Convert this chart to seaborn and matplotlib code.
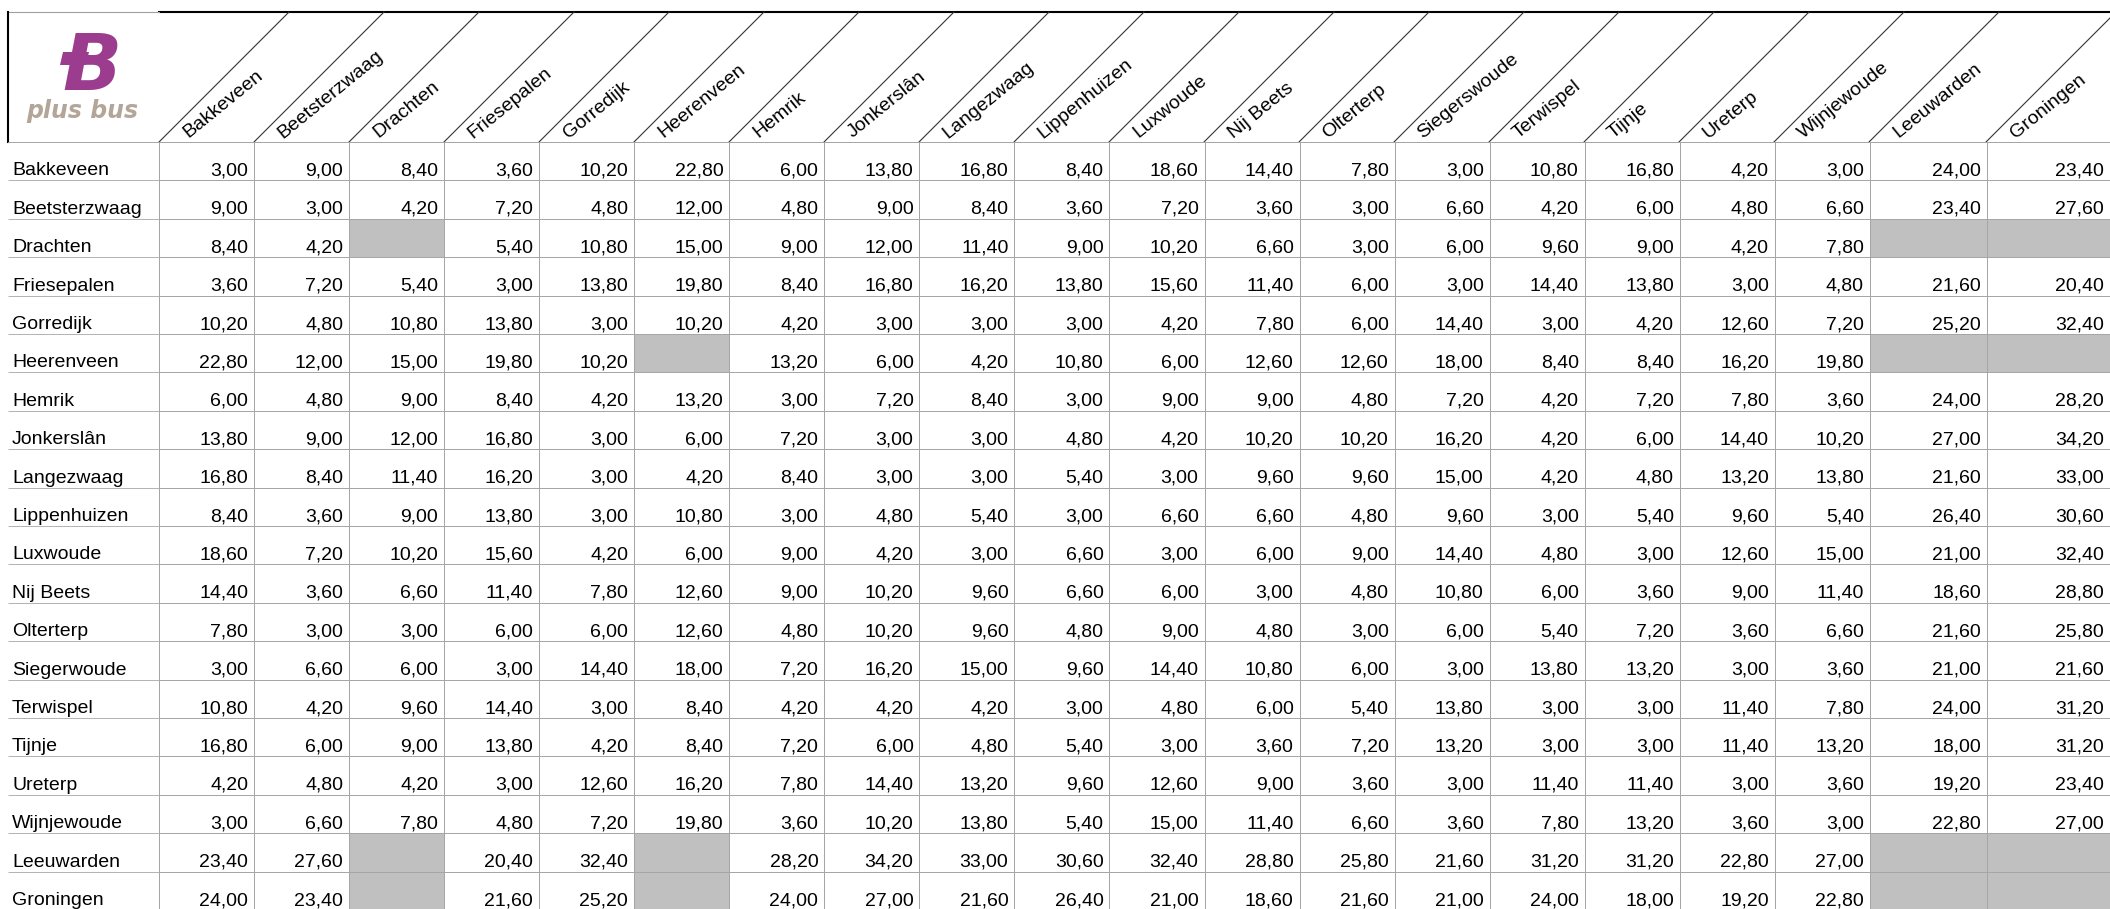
import numpy as np
import pandas as pd
import matplotlib
matplotlib.use('Agg')
import matplotlib.pyplot as plt
import seaborn as sns
from matplotlib.colors import ListedColormap
from matplotlib.patches import Polygon

# bus fares (euro) between places; None = no fare (grey cell)
col_places = ['Bakkeveen', 'Beetsterzwaag', 'Drachten', 'Friesepalen', 'Gorredijk',
              'Heerenveen', 'Hemrik', 'Jonkerslân', 'Langezwaag', 'Lippenhuizen',
              'Luxwoude', 'Nij Beets', 'Olterterp', 'Siegerswoude', 'Terwispel',
              'Tijnje', 'Ureterp', 'Wijnjewoude', 'Leeuwarden', 'Groningen']
row_places = ['Bakkeveen', 'Beetsterzwaag', 'Drachten', 'Friesepalen', 'Gorredijk',
              'Heerenveen', 'Hemrik', 'Jonkerslân', 'Langezwaag', 'Lippenhuizen',
              'Luxwoude', 'Nij Beets', 'Olterterp', 'Siegerwoude', 'Terwispel',
              'Tijnje', 'Ureterp', 'Wijnjewoude', 'Leeuwarden', 'Groningen']

bakkeveen = [3.0, 9.0, 8.4, 3.6, 10.2, 22.8, 6.0, 13.8, 16.8, 8.4, 18.6, 14.4, 7.8, 3.0, 10.8, 16.8, 4.2, 3.0, 24.0, 23.4]
beetsterzwaag = [9.0, 3.0, 4.2, 7.2, 4.8, 12.0, 4.8, 9.0, 8.4, 3.6, 7.2, 3.6, 3.0, 6.6, 4.2, 6.0, 4.8, 6.6, 23.4, 27.6]
drachten = [8.4, 4.2, None, 5.4, 10.8, 15.0, 9.0, 12.0, 11.4, 9.0, 10.2, 6.6, 3.0, 6.0, 9.6, 9.0, 4.2, 7.8, None, None]
friesepalen = [3.6, 7.2, 5.4, 3.0, 13.8, 19.8, 8.4, 16.8, 16.2, 13.8, 15.6, 11.4, 6.0, 3.0, 14.4, 13.8, 3.0, 4.8, 21.6, 20.4]
gorredijk = [10.2, 4.8, 10.8, 13.8, 3.0, 10.2, 4.2, 3.0, 3.0, 3.0, 4.2, 7.8, 6.0, 14.4, 3.0, 4.2, 12.6, 7.2, 25.2, 32.4]
heerenveen = [22.8, 12.0, 15.0, 19.8, 10.2, None, 13.2, 6.0, 4.2, 10.8, 6.0, 12.6, 12.6, 18.0, 8.4, 8.4, 16.2, 19.8, None, None]
hemrik = [6.0, 4.8, 9.0, 8.4, 4.2, 13.2, 3.0, 7.2, 8.4, 3.0, 9.0, 9.0, 4.8, 7.2, 4.2, 7.2, 7.8, 3.6, 24.0, 28.2]
jonkerslan = [13.8, 9.0, 12.0, 16.8, 3.0, 6.0, 7.2, 3.0, 3.0, 4.8, 4.2, 10.2, 10.2, 16.2, 4.2, 6.0, 14.4, 10.2, 27.0, 34.2]
langezwaag = [16.8, 8.4, 11.4, 16.2, 3.0, 4.2, 8.4, 3.0, 3.0, 5.4, 3.0, 9.6, 9.6, 15.0, 4.2, 4.8, 13.2, 13.8, 21.6, 33.0]
lippenhuizen = [8.4, 3.6, 9.0, 13.8, 3.0, 10.8, 3.0, 4.8, 5.4, 3.0, 6.6, 6.6, 4.8, 9.6, 3.0, 5.4, 9.6, 5.4, 26.4, 30.6]
luxwoude = [18.6, 7.2, 10.2, 15.6, 4.2, 6.0, 9.0, 4.2, 3.0, 6.6, 3.0, 6.0, 9.0, 14.4, 4.8, 3.0, 12.6, 15.0, 21.0, 32.4]
nij_beets = [14.4, 3.6, 6.6, 11.4, 7.8, 12.6, 9.0, 10.2, 9.6, 6.6, 6.0, 3.0, 4.8, 10.8, 6.0, 3.6, 9.0, 11.4, 18.6, 28.8]
olterterp = [7.8, 3.0, 3.0, 6.0, 6.0, 12.6, 4.8, 10.2, 9.6, 4.8, 9.0, 4.8, 3.0, 6.0, 5.4, 7.2, 3.6, 6.6, 21.6, 25.8]
siegerwoude = [3.0, 6.6, 6.0, 3.0, 14.4, 18.0, 7.2, 16.2, 15.0, 9.6, 14.4, 10.8, 6.0, 3.0, 13.8, 13.2, 3.0, 3.6, 21.0, 21.6]
terwispel = [10.8, 4.2, 9.6, 14.4, 3.0, 8.4, 4.2, 4.2, 4.2, 3.0, 4.8, 6.0, 5.4, 13.8, 3.0, 3.0, 11.4, 7.8, 24.0, 31.2]
tijnje = [16.8, 6.0, 9.0, 13.8, 4.2, 8.4, 7.2, 6.0, 4.8, 5.4, 3.0, 3.6, 7.2, 13.2, 3.0, 3.0, 11.4, 13.2, 18.0, 31.2]
ureterp = [4.2, 4.8, 4.2, 3.0, 12.6, 16.2, 7.8, 14.4, 13.2, 9.6, 12.6, 9.0, 3.6, 3.0, 11.4, 11.4, 3.0, 3.6, 19.2, 23.4]
wijnjewoude = [3.0, 6.6, 7.8, 4.8, 7.2, 19.8, 3.6, 10.2, 13.8, 5.4, 15.0, 11.4, 6.6, 3.6, 7.8, 13.2, 3.6, 3.0, 22.8, 27.0]
leeuwarden = [23.4, 27.6, None, 20.4, 32.4, None, 28.2, 34.2, 33.0, 30.6, 32.4, 28.8, 25.8, 21.6, 31.2, 31.2, 22.8, 27.0, None, None]
groningen = [24.0, 23.4, None, 21.6, 25.2, None, 24.0, 27.0, 21.6, 26.4, 21.0, 18.6, 21.6, 21.0, 24.0, 18.0, 19.2, 22.8, None, None]

fares = pd.DataFrame([bakkeveen, beetsterzwaag, drachten, friesepalen, gorredijk,
                      heerenveen, hemrik, jonkerslan, langezwaag, lippenhuizen,
                      luxwoude, nij_beets, olterterp, siegerwoude, terwispel,
                      tijnje, ureterp, wijnjewoude, leeuwarden, groningen],
                     index=row_places, columns=col_places, dtype=float)
missing = fares.isna().astype(int)

# layout (pixels)
W, H = 2110, 909
table_left = 159
header_top, header_bottom = 12, 142
row_h = 38.4
col_widths = [95] * 18 + [117, 123]
edges = np.concatenate([[0], np.cumsum(col_widths)]).astype(float)
grid_col = '#a6a6a6'
fs = 14

plt.rcParams['font.family'] = ['Liberation Sans', 'DejaVu Sans']

fig = plt.figure(figsize=(W / 100, H / 100), dpi=100)
bg = fig.add_axes([0, 0, 1, 1])
bg.set_xlim(0, W)
bg.set_ylim(H, 0)
bg.axis('off')

n_rows = len(row_places)
tbl_h = n_rows * row_h
hm = fig.add_axes([table_left / W, 1 - (header_bottom + tbl_h) / H,
                   (W - table_left) / W, tbl_h / H])

sns.heatmap(missing, ax=hm, cmap=ListedColormap(['white', '#c0c0c0']),
            vmin=0, vmax=1, cbar=False, linewidths=0.6, linecolor=grid_col,
            xticklabels=False, yticklabels=False)

# non uniform column widths: map column index -> pixel offset
idx_ext = np.r_[-1000.0, np.arange(len(edges)), len(edges) + 999.0]
px_ext = np.r_[-95000.0, edges, edges[-1] + 123 * 1000.0]
hm.set_xscale('function', functions=(lambda x: np.interp(x, idx_ext, px_ext),
                                     lambda p: np.interp(p, px_ext, idx_ext)))
hm.set_xlim(0, len(col_places))
hm.set_ylim(n_rows, 0)
hm.axis('off')

# fare values, right/bottom aligned like the spreadsheet
for i, r in enumerate(row_places):
    for j, c in enumerate(col_places):
        v = fares.iloc[i, j]
        if np.isnan(v):
            continue
        hm.annotate(f'{v:.2f}'.replace('.', ','), xy=(j + 1, i + 1),
                    xytext=(-6, 5), textcoords='offset pixels',
                    ha='right', va='baseline', fontsize=fs, color='black')
    hm.annotate(r, xy=(0, i + 1), xytext=(-147, 5), textcoords='offset pixels',
                ha='left', va='baseline', fontsize=fs, color='black',
                annotation_clip=False)

# row lines under the label column
hm.hlines(np.arange(n_rows + 1), -151 / 95, 0, colors=grid_col, lw=0.6, clip_on=False)

# header: frame, diagonals and slanted names
bg.plot([table_left, W], [header_top, header_top], color='black', lw=1.5)
bg.plot([8, table_left], [header_top, header_top], color='#a0a0a0', lw=0.8)
bg.plot([8, 8], [header_top, header_bottom], color='black', lw=1.5)
bg.plot([8, table_left], [header_bottom, header_bottom], color=grid_col, lw=0.6)
for j, c in enumerate(col_places):
    x0 = table_left + edges[j]
    bg.plot([x0, x0 + 130], [header_bottom, header_top], color='#333333', lw=0.8)
    bg.text(x0 + 29, 138.5, c, rotation=39, rotation_mode='anchor',
            ha='left', va='baseline', fontsize=fs, color='black')

# logo
bg.add_patch(Polygon([(60, 65), (86, 65), (89, 52), (63, 52)], closed=True,
                     color='#9c3c8e', lw=0))
bg.text(92, 90, 'B', fontsize=56, fontweight='bold', fontstyle='italic',
        family='DejaVu Sans', color='#9c3c8e', ha='center', va='baseline')
bg.text(26, 118, 'plus bus', fontsize=17, fontweight='bold', fontstyle='italic',
        family='DejaVu Sans', color='#b3a597', ha='left', va='baseline')

fig.savefig('out.png', dpi=100)
